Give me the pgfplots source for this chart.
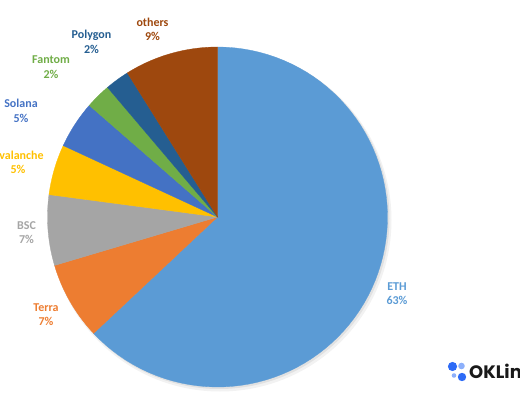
\documentclass[border=0pt]{standalone}
\usepackage{pgfplots}
\pgfplotsset{compat=1.18}
\usepackage{pgfplotstable}
\usepackage{fontspec}
\setmainfont{Carlito}
\newfontfamily\logofont{Poppins}
\definecolor{cETH}{HTML}{5B9BD5}
\definecolor{cTerra}{HTML}{ED7D31}
\definecolor{cBSC}{HTML}{A5A5A5}
\definecolor{cAvax}{HTML}{FFC000}
\definecolor{cSol}{HTML}{4472C4}
\definecolor{cFtm}{HTML}{70AD47}
\definecolor{cPoly}{HTML}{255E91}
\definecolor{cOth}{HTML}{9E480E}
\definecolor{logoA}{HTML}{2E6BF6}
\definecolor{logoB}{HTML}{8DB0FB}

\pgfplotstableread{
name value color
ETH 63.0 cETH
Terra 7.4 cTerra
BSC 6.7 cBSC
Avalanche 4.8 cAvax
Solana 4.5 cSol
Fantom 2.4 cFtm
Polygon 2.3 cPoly
others 8.9 cOth
}\piedata

\newcommand\lab[6]{% x, baseline(px), name, pct, color, x2
  \node[overlay, anchor=base, text=#5, font=\bfseries\fontsize{12}{14}\selectfont] at (axis cs:#1,{400-#2}) {#3};
  \node[overlay, anchor=base, text=#5, font=\bfseries\fontsize{12}{14}\selectfont] at (axis cs:#6,{400-#2-14.5}) {#4};
}

\begin{document}
\begin{tikzpicture}
\begin{axis}[
  width=520pt, height=400pt, scale only axis,
  xmin=0, xmax=520, ymin=0, ymax=400,
  hide axis, clip=true,
]
\path (axis cs:0,0) rectangle (axis cs:520,400);
\fill[black, opacity=0.05] (axis cs:220,180) circle[radius=171.5];
\fill[black, opacity=0.07] (axis cs:219,181.5) circle[radius=170.5];

\pgfplotstablegetrowsof{\piedata}
\pgfmathtruncatemacro\nrows{\pgfplotsretval-1}
\gdef\cum{0}
\pgfplotsforeachungrouped \i in {0,...,\nrows}{
  \pgfplotstablegetelem{\i}{value}\of\piedata \let\val\pgfplotsretval
  \pgfplotstablegetelem{\i}{color}\of\piedata \let\col\pgfplotsretval
  \pgfmathsetmacro\endv{\cum+\val}
  \edef\temp{\noexpand\addplot[draw=\col, line width=0.3pt, fill=\col, domain=\cum:\endv, samples=80, variable=\noexpand\t]
    ({217.5+170*sin(3.6*\noexpand\t)},{183+170*cos(3.6*\noexpand\t)}) -- (axis cs:217.5,183) -- cycle;}
  \temp
  \xdef\cum{\endv}
}

\lab{152.5}{26.5}{others}{9\%}{cOth}{152.5}
\lab{91.5}{39}{Polygon}{2\%}{cPoly}{91.5}
\lab{51}{64}{Fantom}{2\%}{cFtm}{51}
\lab{21}{108}{Solana}{5\%}{cSol}{21}
\lab{18}{159}{Avalanche}{5\%}{cAvax}{18}
\lab{26.5}{229}{BSC}{7\%}{cBSC}{26.5}
\lab{46}{311}{Terra}{7\%}{cTerra}{46}
\lab{397}{290}{ETH}{63\%}{cETH}{397}

\fill[logoA] (axis cs:452.5,33.5) circle[radius=4.6];
\fill[logoB] (axis cs:461.5,34) circle[radius=3.3];
\fill[logoB] (axis cs:454,24.5) circle[radius=2.3];
\fill[logoA] (axis cs:462,23) circle[radius=4.2];
\node[overlay, anchor=base west, inner sep=0pt, font=\logofont\bfseries\fontsize{18}{20}\selectfont, text=black!90] at (axis cs:469,22) {OKLink};
\end{axis}
\end{tikzpicture}
\end{document}
